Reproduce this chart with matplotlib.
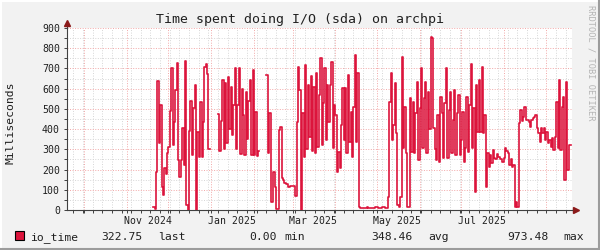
import numpy as np
import pandas as pd
import matplotlib
matplotlib.use('Agg')
import matplotlib.pyplot as plt
import matplotlib.dates as mdates
from matplotlib.ticker import MultipleLocator, NullFormatter
from matplotlib.patches import Rectangle
from matplotlib.lines import Line2D

# daily io_time readings in ms, first one on 2024-11-20 (nan = unknown)
start_day = '2024-11-20'
nan = np.nan
io_time = [
    # Nov / Dec 2024
    16, 3, 190, 640, 330, 520, 112, 74, 206, 180,
    280, 313, 490, 700, 320, 437, 593, 726, 247, 165,
    247, 404, 223, 737, 25, 0, 390, 540, 272, 503,
    618, 0, 388, 264, 536, 264, 437, 705, 721, 671,
    300,
    nan, nan, nan, nan, nan, nan,
    # Jan 2025
    473, 290, 440, 643, 300, 630, 330, 660, 400, 610,
    370, 520, 700, 300, 520, 704, 275, 600, 470, 270,
    585, 350, 540, 643, 270, 693, 270, 486, 265, 290,
    nan, nan, nan, nan, nan,
    # Feb 2025
    668, 280, 478, 41, 41, 190, 115, 3, 3, 396,
    412, 157, 148, 132, 127, 127, 112,
    120, 120, 118, 118, 71, 437, 709, 593, 0, 478,
    # Mar 2025
    264, 717, 300, 618, 363, 663, 290, 610, 280, 676,
    310, 570, 750, 322, 527, 700, 346, 618, 437, 618,
    733, 305, 519, 470, 190, 288, 206, 420, 602, 346,
    602, 280, 668, 338, 486, 264, 511, 766, 338, 676,
    # Apr 2025
    16, 8, 10, 12, 12, 12, 15, 12, 12, 12,
    12, 12, 15, 15, 12, 10, 10, 16, 16, 10,
    10, 66, 536, 676, 346, 420, 627, 379, 25, 16,
    66, 759, 305, 511, 280, 16, 16, 552, 288, 536,
    280, 478, 635, 247, 503, 700, 305, 552, 635, 280,
    585, 400,
    # Jun 2025
    857, 849, 404, 300, 247, 470, 239, 560, 478, 255,
    527, 700, 255, 494, 585, 280, 445, 593, 272, 478,
    568, 272, 346, 486, 239, 305, 560, 288, 519, 721,
    305, 503, 91, 618, 387, 643, 387, 709, 379, 470,
    115, 280, 214, 272, 231, 297, 255,
    # Jul / Aug / Sep 2025
    250, 275, 264, 252, 252, 236, 255, 305, 290, 280,
    222, 250, 214, 222, 16, 41, 16, 429, 495, 440,
    462, 511, 445, 445, 437, 410, 445, 453, 460, 470,
    404, 379, 338, 404, 379, 404, 346, 387, 330, 346,
    313, 354, 297, 363, 534, 305, 643, 297, 511, 560,
    148, 634, 198, 321, 323,
]

# axis labels (centred mid month, every second month)
label_days = ['2024-11-16', '2025-01-16', '2025-03-16', '2025-05-16', '2025-07-16']
label_text = ['Nov 2024', 'Jan 2025', 'Mar 2025', 'May 2025', 'Jul 2025']

# legend (gprint) values
stat_names = ['last', 'min', 'avg', 'max']
stat_values = [322.75, 0.00, 348.46, 973.48]

plt.rcParams['font.family'] = 'DejaVu Sans Mono'

fig = plt.figure(figsize=(6, 2.5), dpi=100, facecolor='#F2F2F2')
ax = fig.add_axes([67 / 600, 40 / 250, 505 / 600, 182 / 250])
ax.set_facecolor('white')

days = pd.date_range(start_day, periods=len(io_time) + 1, freq='D')
ax.step(days, io_time + [io_time[-1]], where='post', color='#DC143C', lw=1.2, zorder=3)

ax.set_xlim(pd.Timestamp('2024-09-18 12:00'), pd.Timestamp('2025-09-19 12:00'))
ax.set_ylim(0, 900)

# grid: weekly / monthly and 50 / 100
ax.xaxis.set_major_locator(mdates.MonthLocator())
ax.xaxis.set_minor_locator(mdates.WeekdayLocator(byweekday=mdates.MO))
ax.xaxis.set_major_formatter(NullFormatter())
ax.yaxis.set_major_locator(MultipleLocator(100))
ax.yaxis.set_minor_locator(MultipleLocator(50))
ax.grid(which='minor', color='#D6D6D6', lw=0.7, linestyle=(0, (1, 1.6)), zorder=0)
ax.grid(which='major', color='#F2A8A8', lw=0.7, linestyle=(0, (1, 1.6)), zorder=1)
ax.set_axisbelow(True)

ax.tick_params(which='both', direction='out', length=2.5, width=0.7, color='#404040',
               labelsize=7.1, pad=2.5, labelcolor='#202020')
ax.tick_params(axis='x', which='minor', length=2)
for s in ['top', 'right']:
    ax.spines[s].set_visible(False)
for s in ['left', 'bottom']:
    ax.spines[s].set_color('#404040')
    ax.spines[s].set_linewidth(0.8)

# axis arrows
ax.plot([1, 1.006], [0, 0], transform=ax.transAxes, color='#404040', lw=0.8, clip_on=False)
ax.plot([0, 0], [1, 1.02], transform=ax.transAxes, color='#404040', lw=0.8, clip_on=False)
ax.plot([1.008], [0], marker='>', ms=4, color='#8B1A1A', transform=ax.transAxes, clip_on=False)
ax.plot([0], [1.025], marker='^', ms=4, color='#8B1A1A', transform=ax.transAxes, clip_on=False)

for d, t in zip(label_days, label_text):
    ax.text(pd.Timestamp(d), -0.035, t, transform=ax.get_xaxis_transform(),
            ha='center', va='top', fontsize=7.1, color='#202020')

fig.text(0.5, 1 - 19 / 250, 'Time spent doing I/O (sda) on archpi',
         ha='center', va='center', fontsize=9.5, color='#202020')
fig.text(11 / 600, 0.51, 'Milliseconds', rotation=90, ha='center', va='center',
         fontsize=8.2, color='#202020')
fig.text(591 / 600, 1 - 5 / 250, 'RRDTOOL / TOBI OETIKER', rotation=270,
         ha='center', va='top', fontsize=6.2, color='#B4B4B4')

# legend line
fig.add_artist(Rectangle((15 / 600, 10 / 250), 8.5 / 600, 9 / 250, transform=fig.transFigure,
                         facecolor='#DC143C', edgecolor='black', lw=0.8))
base = 10 / 250
fig.text(30.5 / 600, base, 'io_time', ha='left', va='baseline', fontsize=8.2, color='#202020')
value_right = [143, 277, 413, 548]
name_left = [158, 284, 428, 563]
for name, val, xr, xl in zip(stat_names, stat_values, value_right, name_left):
    fig.text(xr / 600, base, f'{val:.2f}', ha='right', va='baseline', fontsize=8.2, color='#202020')
    fig.text(xl / 600, base, name, ha='left', va='baseline', fontsize=8.2, color='#202020')

# 3d border round the canvas
fig.add_artist(Line2D([0, 1], [0.998, 0.998], transform=fig.transFigure, color='white', lw=1.5))
fig.add_artist(Line2D([0.0015, 0.0015], [0, 1], transform=fig.transFigure, color='white', lw=1.5))
fig.add_artist(Line2D([0, 1], [0.004, 0.004], transform=fig.transFigure, color='#9C9C9C', lw=1.5))
fig.add_artist(Line2D([0.9975, 0.9975], [0, 1], transform=fig.transFigure, color='#9C9C9C', lw=1.5))

fig.savefig('out.png', dpi=100, facecolor=fig.get_facecolor())
